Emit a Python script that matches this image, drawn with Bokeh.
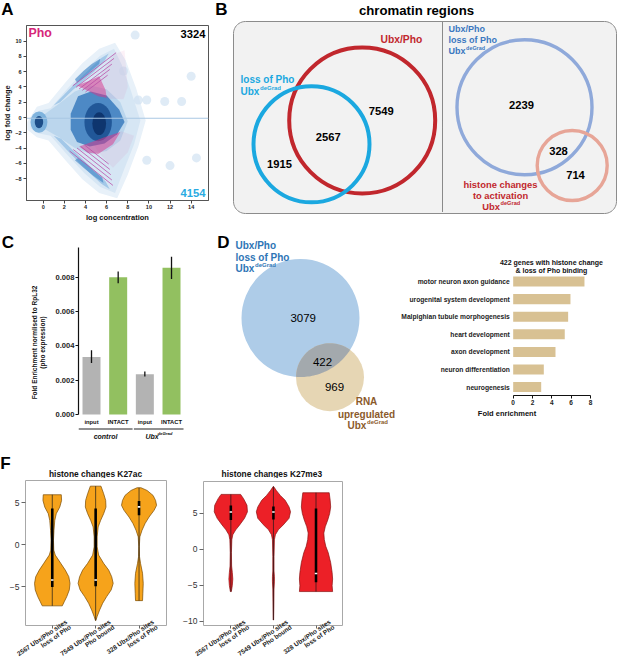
import numpy as np
from bokeh.plotting import figure
from bokeh.layouts import row, column
from bokeh.models import Range1d, FixedTicker, NumeralTickFormatter
from bokeh.core.properties import value
from bokeh.embed import file_html
from bokeh.resources import INLINE

S = 1.0
FONT = "Liberation Sans"


def px(v):
    return int(round(v * S))


def fs(v):
    return f"{v * S:.2f}px"


# ======================= DATA =======================
# ---- Panel A : MA plot (density shapes) ----
A_xticks = [0, 2, 4, 6, 8, 10, 12, 14]
A_yticks = [-8, -6, -4, -2, 0, 2, 4, 6, 8, 10]
A_up_count = "3324"
A_down_count = "4154"
A_halo2_x = [-1.5, -0.6, 0.5, 2.1, 3.7, 5.3, 6.8, 7.8, 8.8, 9.7, 9.0, 8.0, 7.0, 5.3, 3.7, 2.1, 0.5, -0.6, -1.5]
A_halo2_y = [-0.6, 1.4, 1.9, 4.6, 7.1, 9.0, 9.8, 7.5, 3.8, -0.4, -3.8, -7.5, -10.6, -9.9, -8.1, -5.6, -3.0, -2.6, -1.6]
A_halo_x = [-1.2, -0.4, 0.7, 2.3, 3.9, 5.4, 6.7, 7.4, 8.3, 9.2, 8.6, 7.6, 6.8, 5.4, 3.9, 2.3, 0.7, -0.4, -1.2]
A_halo_y = [-0.6, 0.9, 1.2, 3.8, 6.2, 8.1, 9.0, 7.0, 3.5, -0.4, -3.5, -7.0, -9.9, -9.1, -7.3, -4.9, -2.4, -2.1, -1.4]
A_fan_x = [0.0, 1.5, 3.0, 4.5, 6.0, 7.3, 8.0, 7.3, 6.0, 4.5, 3.0, 1.5, 0.0]
A_fan_y = [0.3, 1.8, 3.4, 4.2, 3.7, 2.0, -0.5, -3.0, -4.4, -4.8, -4.0, -2.6, -1.4]
A_uparm_x = [1.0, 2.2, 3.4, 4.5, 5.5, 6.2, 5.8, 4.8, 3.8, 2.8, 1.6]
A_uparm_y = [1.6, 3.3, 5.0, 6.5, 7.8, 8.4, 7.4, 6.0, 4.8, 3.6, 2.0]
A_uparm2_x = [3.0, 3.8, 4.6, 5.4, 5.3, 4.6, 3.8, 3.2]
A_uparm2_y = [5.0, 6.1, 7.0, 7.7, 7.0, 6.2, 5.2, 4.6]
A_loarm_x = [1.0, 2.2, 3.4, 4.5, 5.5, 6.3, 5.9, 4.9, 3.9, 2.9, 1.7]
A_loarm_y = [-2.4, -4.2, -5.9, -7.4, -8.7, -9.4, -8.4, -7.0, -5.7, -4.4, -2.8]
A_loarm2_x = [3.0, 3.9, 4.8, 5.7, 5.6, 4.8, 4.0, 3.3]
A_loarm2_y = [-5.6, -6.7, -7.7, -8.6, -7.9, -7.0, -6.0, -5.3]
A_mass_x = [2.6, 3.3, 4.5, 6.0, 7.2, 7.7, 7.0, 5.8, 4.4, 3.2, 2.6]
A_mass_y = [0.5, 2.8, 3.4, 2.9, 1.0, -0.6, -2.2, -3.4, -3.8, -3.2, -1.6]
A_core_x = [5.2, 5.3]
A_core_y = [-0.6, -0.8]
A_core_w = [2.6, 1.3]
A_core_h = [5.0, 3.0]
A_blob_x = [-0.4, -0.4]
A_blob_y = [-0.6, -0.6]
A_blob_w = [1.6, 0.8]
A_blob_h = [2.8, 1.6]
A_spots_x = [9.0, 9.8, 11.5, 13.1, 14.0, 8.7, 7.6, 9.8, 12.0, 14.5]
A_spots_y = [2.3, 2.3, 2.1, 2.1, 5.4, 10.8, 6.1, -5.6, -6.3, -5.3]
A_pink_up_x = [3.2, 4.2, 5.2, 6.0, 5.9, 5.3, 4.3]
A_pink_up_y = [4.2, 3.5, 2.8, 2.6, 3.6, 5.4, 4.8]
A_pink_upsparse_x = [3.3, 6.0, 7.6, 8.0, 7.7, 6.7, 5.4]
A_pink_upsparse_y = [4.2, 2.5, 2.4, 4.0, 8.8, 8.3, 5.5]
A_pink_lo_x = [3.4, 4.6, 5.8, 7.3, 6.6, 5.2, 4.2]
A_pink_lo_y = [-3.8, -3.2, -2.6, -1.9, -3.5, -4.8, -4.6]
A_pink_losparse_x = [4.6, 7.4, 8.6, 8.0, 6.6, 5.5]
A_pink_losparse_y = [-3.2, -1.8, -2.4, -4.6, -6.6, -5.0]
A_ustripe_x0 = [2.8, 3.1, 3.4, 3.7, 4.0]
A_ustripe_y0 = [4.15, 3.95, 3.75, 3.55, 3.35]
A_ustripe_x1 = [6.9, 6.7, 6.5, 6.3, 6.1]
A_ustripe_y1 = [8.5, 7.75, 7.0, 6.3, 5.55]
A_lstripe_x0 = [2.5, 2.85, 3.2, 3.55, 3.9]
A_lstripe_y0 = [-4.4, -4.2, -4.0, -3.8, -3.6]
A_lstripe_x1 = [6.6, 6.5, 6.4, 6.3, 6.2]
A_lstripe_y1 = [-8.9, -8.2, -7.5, -6.8, -6.1]
A_zero_line = -0.1

# ---- Panel B : chromatin region Venn counts ----
B_left_counts = ["1915", "2567", "7549"]
B_right_counts = ["2239", "328", "714"]

# ---- Panel C : qPCR ----
C_samples = ["input", "INTACT", "input", "INTACT"]
C_groups = ["control", "Ubx"]
C_values = [0.00335, 0.0080, 0.00235, 0.00855]
C_err_low = [0.0030, 0.00765, 0.00222, 0.0079]
C_err_high = [0.00375, 0.00833, 0.0025, 0.0092]
C_yticks = [0.0, 0.002, 0.004, 0.006, 0.008]

# ---- Panel D ----
D_counts = ["3079", "422", "969"]
D_terms = ["motor neuron axon guidance", "urogenital system development",
           "Malpighian tubule morphogenesis", "heart development",
           "axon development", "neuron differentiation", "neurogenesis"]
D_fold = [7.38, 5.93, 5.69, 5.34, 4.38, 3.17, 2.9]
D_xticks = [0, 2, 4, 6, 8]

# ---- Panel F : violins (value, half-width in px) ----
F_labels = ["2567 Ubx/Pho sites\nloss of Pho", "7549 Ubx/Pho sites\nPho bound", "328 Ubx/Pho sites\nloss of Pho"]
ac1_y = [5.94, 5.27, 4.48, 3.70, 2.90, 1.73, 0.55, -0.63, -1.22, -2.2, -3.0, -3.78, -4.57, -5.35, -6.14, -6.74, -7.24]
ac1_w = [9.0, 9.3, 7.5, 4.0, 2.5, 1.7, 1.2, 1.5, 3.0, 8.5, 13.0, 16.5, 17.7, 17.0, 14.5, 12.0, 10.0]
ac2_y = [6.96, 6.06, 5.27, 4.48, 3.70, 2.91, 2.12, 0.94, -0.24, -1.22, -2.2, -3.0, -3.78, -4.57, -5.35, -6.14, -6.93, -7.72, -8.5, -8.98]
ac2_w = [5.3, 8.0, 10.0, 10.3, 8.0, 5.0, 2.5, 1.5, 1.5, 3.0, 8.0, 13.0, 16.0, 17.5, 15.5, 11.0, 7.0, 4.0, 1.5, 0.2]
ac3_y = [6.77, 6.45, 5.86, 5.27, 4.68, 4.09, 3.30, 2.52, 1.73, 0.94, -0.24, -1.42, -2.2, -3.38, -4.57, -5.75, -6.62]
ac3_w = [2.0, 8.0, 14.0, 16.5, 17.5, 15.0, 10.0, 6.0, 3.0, 0.8, 0.3, 0.5, 1.5, 3.5, 4.2, 3.8, 3.5]
ac_q1 = [-5.0, -4.9, 3.5]
ac_q3 = [4.3, 4.3, 5.2]
ac_med = [-4.17, -4.17, 4.5]
me1_y = [7.64, 7.05, 6.13, 5.22, 4.32, 3.40, 2.72, 2.04, 1.35, -0.46, -2.3, -3.2, -4.11, -5.0, -5.85]
me1_w = [10.0, 13.0, 16.5, 17.0, 14.0, 9.0, 5.0, 2.0, 1.0, 0.6, 0.8, 1.5, 2.0, 1.5, 0.5]
me2_y = [8.73, 8.18, 7.5, 6.82, 5.9, 5.22, 4.32, 3.40, 2.72, 2.04, 1.35, -1.0, -3.0, -3.8, -4.5, -5.5, -8.0, -9.8]
me2_w = [0.2, 3.0, 7.0, 12.0, 16.0, 17.5, 16.0, 10.0, 5.0, 2.0, 1.0, 0.6, 0.6, 1.0, 1.0, 0.6, 0.4, 0.2]
me3_y = [7.87, 6.82, 5.9, 5.0, 4.08, 3.17, 2.27, 1.35, 0.44, -0.46, -1.83, -3.2, -4.11, -5.03, -5.85]
me3_w = [13.5, 14.5, 15.0, 14.0, 12.0, 9.5, 8.0, 8.5, 10.0, 12.5, 15.0, 16.5, 17.0, 16.5, 17.0]
me_q1 = [4.1, 4.14, -4.57]
me_q3 = [6.1, 5.95, 5.68]
me_med = [5.2, 5.2, -3.33]


# ======================= HELPERS =======================
def canvas(x0, x1, y0, y1):
    p = figure(width=px(x1) - px(x0), height=px(y1) - px(y0),
               x_range=Range1d(x0, x1), y_range=Range1d(y1, y0),
               x_axis_type=None, y_axis_type=None, title=None,
               toolbar_location=None, output_backend="svg",
               min_border_left=0, min_border_right=0, min_border_top=0, min_border_bottom=0)
    p.outline_line_color = None
    return p


def txt(p, x, y, t, size, color="#111111", style="bold", align="left", baseline="middle"):
    p.text(x=[x], y=[y], text=[t], text_font=value(FONT), text_font_size=fs(size),
           text_font_style=style, text_color=color, text_align=align, text_baseline=baseline)


def ubx(p, x, y, size, color, style="bold"):
    txt(p, x, y, "Ubx", size, color, style)
    txt(p, x + 1.889 * size + 0.6, y - 0.33 * size, "deGrad", 0.6 * size, color, style)


def style_axis(ax, size, bold=True, color="#222222"):
    ax.major_label_text_font = FONT
    ax.major_label_text_font_size = fs(size)
    ax.major_label_text_font_style = "bold" if bold else "normal"
    ax.major_label_text_color = color
    ax.axis_label_text_font = FONT
    ax.axis_label_text_font_style = "bold"
    ax.axis_label_text_color = "#111111"
    ax.minor_tick_line_color = None
    ax.major_tick_in = 0
    ax.major_tick_out = 3


def rounded_rect(x0, y0, x1, y1, r, n=12):
    xs, ys = [], []
    corners = [(x1 - r, y0 + r, -90, 0), (x1 - r, y1 - r, 0, 90),
               (x0 + r, y1 - r, 90, 180), (x0 + r, y0 + r, 180, 270)]
    for cx, cy, a0, a1 in corners:
        t = np.radians(np.linspace(a0, a1, n))
        xs += list(cx + r * np.cos(t))
        ys += list(cy + r * np.sin(t))
    return xs, ys


def lens(c1, r1, c2, r2, n=40):
    dx, dy = c2[0] - c1[0], c2[1] - c1[1]
    d = np.hypot(dx, dy)
    th = np.arctan2(dy, dx)
    a = (r1 ** 2 - r2 ** 2 + d ** 2) / (2 * d)
    al1 = np.arccos(a / r1)
    al2 = np.arccos((d - a) / r2)
    t1 = np.linspace(th - al1, th + al1, n)
    t2 = np.linspace(th + np.pi - al2, th + np.pi + al2, n)
    x1 = c1[0] + r1 * np.cos(t1); y1 = c1[1] + r1 * np.sin(t1)
    x2 = c2[0] + r2 * np.cos(t2); y2 = c2[1] + r2 * np.sin(t2)
    if np.hypot(x2[0] - x1[-1], y2[0] - y1[-1]) > np.hypot(x2[-1] - x1[-1], y2[-1] - y1[-1]):
        x2, y2 = x2[::-1], y2[::-1]
    return list(np.concatenate([x1, x2])), list(np.concatenate([y1, y2]))


def W(p):
    # wrap each plot on its own so that sibling plots do not align their frames
    return column(p)


# ======================= PANEL A =======================
pAs = canvas(0, 210, 0, 24)
txt(pAs, 7, 9, "A", 17, "#000000", align="center")

pA = figure(width=px(210) - px(0), height=px(224) - px(24), title=None,
            x_range=Range1d(-1.58, 15.64), y_range=Range1d(-10.88, 12.06),
            toolbar_location=None, output_backend="svg",
            min_border_left=px(26) - px(0), min_border_right=px(210) - px(208),
            min_border_top=px(25) - px(24), min_border_bottom=px(224) - px(200))
pA.grid.visible = False
pA.outline_line_color = "#555555"
pA.outline_line_width = 1
pA.xaxis.ticker = FixedTicker(ticks=A_xticks)
pA.yaxis.ticker = FixedTicker(ticks=A_yticks)
for ax in (pA.xaxis[0], pA.yaxis[0]):
    style_axis(ax, 5.5)
    ax.axis_line_color = "#555555"
    ax.major_tick_line_color = "#444444"
    ax.axis_label_text_font_size = fs(7.5)
pA.xaxis.axis_label = "log concentration"
pA.yaxis.axis_label = "log fold change"
pA.xaxis.major_label_standoff = 1
pA.xaxis.axis_label_standoff = 1
pA.yaxis.major_label_standoff = 2
pA.yaxis.axis_label_standoff = 0

pA.patch(A_halo2_x, A_halo2_y, fill_color="#e8f1f9", fill_alpha=1.0, line_color=None)
pA.patch(A_halo_x, A_halo_y, fill_color="#d6e6f4", fill_alpha=1.0, line_color=None)
pA.patch(A_fan_x, A_fan_y, fill_color="#a9cbe8", fill_alpha=0.6, line_color=None)
pA.patch(A_uparm_x, A_uparm_y, fill_color="#8dbbe2", fill_alpha=0.7, line_color=None)
pA.patch(A_loarm_x, A_loarm_y, fill_color="#8dbbe2", fill_alpha=0.7, line_color=None)
pA.patch(A_uparm2_x, A_uparm2_y, fill_color="#3f84c4", fill_alpha=0.6, line_color=None)
pA.patch(A_loarm2_x, A_loarm2_y, fill_color="#3f84c4", fill_alpha=0.6, line_color=None)
pA.patch(A_mass_x, A_mass_y, fill_color="#3a7bbd", fill_alpha=0.85, line_color=None)
pA.ellipse(x=A_core_x, y=A_core_y, width=A_core_w, height=A_core_h,
           fill_color=["#1a4f8f", "#0a2f66"], fill_alpha=0.85, line_color=None)
pA.ellipse(x=A_blob_x, y=A_blob_y, width=A_blob_w, height=A_blob_h,
           fill_color=["#6ea9d8", "#0b3c7a"], fill_alpha=0.85, line_color=None)
pA.scatter(x=A_spots_x, y=A_spots_y, size=9, fill_color="#c9ddf0", fill_alpha=0.6, line_color=None)
pA.line(x=[-1.58, 15.64], y=[A_zero_line, A_zero_line], line_color="#a9c7e3", line_width=1)
pA.patch(A_pink_upsparse_x, A_pink_upsparse_y, fill_color="#d9338a", fill_alpha=0.07, line_color=None)
pA.patch(A_pink_losparse_x, A_pink_losparse_y, fill_color="#d9338a", fill_alpha=0.07, line_color=None)
pA.patch(A_pink_up_x, A_pink_up_y, fill_color="#d9338a", fill_alpha=0.5, line_color=None)
pA.patch(A_pink_lo_x, A_pink_lo_y, fill_color="#d9338a", fill_alpha=0.5, line_color=None)
pA.segment(x0=A_ustripe_x0, y0=A_ustripe_y0, x1=A_ustripe_x1, y1=A_ustripe_y1,
           line_color="#b84aa6", line_alpha=0.75, line_width=1)
pA.segment(x0=A_lstripe_x0, y0=A_lstripe_y0, x1=A_lstripe_x1, y1=A_lstripe_y1,
           line_color="#b84aa6", line_alpha=0.75, line_width=1)
txt(pA, -1.39, 11.05, "Pho", 12.4, "#d6267a")
txt(pA, 15.35, 10.96, A_up_count, 11.2, "#000000", align="right")
txt(pA, 15.35, -9.92, A_down_count, 11.2, "#29abe2", align="right")

# ======================= PANEL B =======================
pB = canvas(210, 617, 0, 224)
txt(pB, 221, 9, "B", 17, "#000000", align="center")
txt(pB, 416, 10, "chromatin regions", 13.2, "#000000", align="center")
bx, by = rounded_rect(233, 21, 616, 213, 12)
pB.patch(bx, by, fill_color="#f2f2f2", line_color="#8c8c8c", line_width=1)
pB.segment(x0=[442], y0=[22], x1=[442], y1=[212], line_color="#222222", line_width=1, line_dash="1 1")
pB.circle(x=[361.7], y=[120], radius=[73.0], fill_color=None, line_color="#c1272d", line_width=4 * S)
pB.circle(x=[311], y=[143.8], radius=[58.0], fill_color=None, line_color="#1ba8e0", line_width=4 * S)
pB.circle(x=[524], y=[106.7], radius=[67.5], fill_color=None, line_color="#8fa9da", line_width=3.4 * S)
pB.circle(x=[571.7], y=[165], radius=[35.0], fill_color=None, line_color="#e7a597", line_width=3.4 * S)
txt(pB, 380, 39, "Ubx/Pho", 10.3, "#c1272d")
txt(pB, 240, 79, "loss of Pho", 10, "#1ba8e0")
ubx(pB, 240, 90.8, 10, "#1ba8e0")
for (x, y), t in zip([(279, 163), (327.7, 136), (380.7, 110)], B_left_counts):
    txt(pB, x, y, t, 11.2, "#000000", align="center")
txt(pB, 448, 28.3, "Ubx/Pho", 9, "#3a77c0")
txt(pB, 448, 39.3, "loss of Pho", 9, "#3a77c0")
ubx(pB, 448, 50.2, 9, "#3a77c0")
for (x, y), t in zip([(521, 104), (558, 150.7), (575, 174)], B_right_counts):
    txt(pB, x, y, t, 11.2, "#000000", align="center")
txt(pB, 500, 184, "histone changes", 9.4, "#c1272d", align="center")
txt(pB, 500, 195, "to activation", 9.4, "#c1272d", align="center")
ubx(pB, 481.7, 205.5, 9.4, "#c1272d")

# ======================= PANEL C =======================
pCl = canvas(0, 17, 224, 440)
txt(pCl, 7.5, 241.5, "C", 17, "#000000", align="center")

pC = figure(width=px(213) - px(17), height=px(440) - px(224), title=None,
            x_range=Range1d(0.5125, 5.087), y_range=Range1d(-0.001515, 0.009907),
            x_axis_type=None, toolbar_location=None, output_backend="svg",
            min_border_left=px(78) - px(17), min_border_right=px(213) - px(200),
            min_border_top=px(244) - px(224), min_border_bottom=0)
pC.grid.visible = False
pC.outline_line_color = None
yax = pC.yaxis[0]
style_axis(yax, 7.6)
yax.ticker = FixedTicker(ticks=C_yticks)
yax.formatter = NumeralTickFormatter(format="0.000")
yax.bounds = (0, 0.00973)
yax.axis_line_color = "#111111"
yax.axis_line_width = 1.2
yax.major_tick_line_color = "#111111"
yax.major_label_standoff = 1
yax.axis_label = "Fold Enrichment normlised to RpL32\n(pho expression)"
yax.axis_label_text_font_size = fs(6.5)
yax.axis_label_standoff = 6
C_x = [1, 2, 3, 4]
pC.vbar(x=C_x, top=C_values, width=0.675, bottom=0,
        fill_color=["#b3b3b3", "#92c060", "#b3b3b3", "#92c060"], line_color=None)
pC.segment(x0=C_x, y0=C_err_low, x1=C_x, y1=C_err_high, line_color="#111111", line_width=1.3)
pC.text(x=C_x, y=[-0.000437] * 4, text=C_samples, text_font=value(FONT), text_font_size=fs(5.8),
        text_font_style="bold", text_color="#111111", text_align="center", text_baseline="middle")
pC.segment(x0=[0.5125, 2.59], y0=[-0.000845] * 2, x1=[2.54, 4.45], y1=[-0.000845] * 2,
           line_color="#6d6d6d", line_width=1.6)
txt(pC, 1.525, -0.001253, C_groups[0], 7.0, "#111111", style="bold italic", align="center")
txt(pC, 3.025, -0.001253, C_groups[1], 7.0, "#111111", style="bold italic")
txt(pC, 3.47, -0.001253 + 0.00013, "deGrad", 4.3, "#111111", style="bold italic")

# ======================= PANEL D venn =======================
pDv = canvas(213, 396, 224, 440)
txt(pDv, 223, 242, "D", 17, "#000000", align="center")
c1, r1 = (300.0, 317.5), 59.0
c2, r2 = (329.5, 376.7), 34.0
pDv.circle(x=[c1[0]], y=[c1[1]], radius=[r1], fill_color="#aecce8", line_color=None)
pDv.circle(x=[c2[0]], y=[c2[1]], radius=[r2], fill_color="#e6d6b4", line_color=None)
lx, ly = lens(c1, r1, c2, r2)
pDv.patch(lx, ly, fill_color="#a3a9ad", line_color=None)
txt(pDv, 235, 244.5, "Ubx/Pho", 10, "#2e75b6")
txt(pDv, 235, 256.5, "loss of Pho", 10, "#2e75b6")
ubx(pDv, 235, 268.2, 10, "#2e75b6")
for (x, y), t in zip([(302.7, 317), (322, 361.7), (334, 386.7)], D_counts):
    txt(pDv, x, y, t, 11.5, "#000000", style="normal", align="center")
txt(pDv, 366, 401, "RNA", 10, "#8b5a2b", align="center")
txt(pDv, 366, 413.7, "upregulated", 10, "#8b5a2b", align="center")
ubx(pDv, 347, 424.8, 10, "#8b5a2b")

# ======================= PANEL D bars =======================
pDb = figure(width=px(617) - px(396), height=px(440) - px(224), title=None,
             x_range=Range1d(-12.08, 10.8), y_range=Range1d(6.477, -3.24),
             y_axis_type=None, toolbar_location=None, output_backend="svg",
             min_border_left=0, min_border_right=0, min_border_top=0,
             min_border_bottom=px(440) - px(395))
pDb.grid.visible = False
pDb.outline_line_color = None
xax = pDb.xaxis[0]
style_axis(xax, 6.5)
xax.ticker = FixedTicker(ticks=D_xticks)
xax.bounds = (0, 8)
xax.axis_line_color = "#111111"
xax.major_tick_line_color = "#111111"
xax.major_label_standoff = 1
xax.axis_label = "Fold enrichment"
xax.axis_label_text_font_size = fs(7.5)
xax.axis_label_standoff = 1
D_y = list(range(len(D_terms)))
pDb.hbar(y=D_y, left=0, right=D_fold, height=0.57, fill_color="#d8c193", line_color=None)
pDb.text(x=[-0.35] * len(D_terms), y=D_y, text=D_terms, text_font=value(FONT), text_font_size=fs(6.7),
         text_font_style="bold", text_color="#222222", text_align="right", text_baseline="middle")
txt(pDb, 3.96, -1.1, "422 genes with histone change", 7, "#111111", align="center")
txt(pDb, 3.96, -0.62, "& loss of Pho binding", 7, "#111111", align="center")

# ======================= PANEL F =======================
pFs = canvas(0, 350, 440, 478)
txt(pFs, 5, 463, "F", 17, "#000000", align="center")
txt(pFs, 95, 473.5, "histone changes K27ac", 8.4, "#111111", align="center")
txt(pFs, 271.3, 473.5, "histone changes K27me3", 8.4, "#111111", align="center")

F_label_shift = 0.37  # rotated labels sit to the right of their tick


def violin_fig(x0, x1, fx0, fx1, fy0, fy1, xr, yr, yticks):
    p = figure(width=px(x1) - px(x0), height=px(671) - px(478), title=None,
               x_range=Range1d(*xr), y_range=Range1d(*yr),
               toolbar_location=None, output_backend="svg",
               min_border_left=px(fx0) - px(x0), min_border_right=px(x1) - px(fx1),
               min_border_top=px(fy0) - px(478), min_border_bottom=px(671) - px(fy1))
    p.grid.visible = False
    p.outline_line_color = "#a8a8a8"
    p.outline_line_width = 1
    ya = p.yaxis[0]
    style_axis(ya, 8.5, bold=False, color="#333333")
    ya.ticker = FixedTicker(ticks=yticks)
    ya.axis_line_color = None
    ya.major_tick_line_color = "#666666"
    ya.major_tick_out = 4
    ya.major_label_standoff = 2
    xa = p.xaxis[0]
    style_axis(xa, 6.5)
    shifted = [1 + F_label_shift, 2 + F_label_shift, 3 + F_label_shift]
    # labels on shifted major ticks; the visible tick marks are minor ticks at 1, 2, 3
    xa.ticker = FixedTicker(ticks=shifted, minor_ticks=[1, 2, 3])
    xa.major_label_overrides = {shifted[0]: F_labels[0], shifted[1]: F_labels[1], shifted[2]: F_labels[2]}
    xa.major_label_orientation = 0.6
    xa.major_label_text_line_height = 0.95
    xa.axis_line_color = None
    xa.major_tick_line_color = None
    xa.major_tick_out = 0
    xa.minor_tick_line_color = "#666666"
    xa.minor_tick_out = 3
    xa.minor_tick_in = 0
    xa.major_label_standoff = -5
    return p


def draw_violins(p, shapes, q1, q3, med, unit, fill, line, ypx):
    for i, (ys, ws) in enumerate(shapes):
        c = i + 1
        hw = np.array(ws) / unit
        xs = np.concatenate([c + hw, (c - hw)[::-1]])
        yy = np.concatenate([np.array(ys), np.array(ys)[::-1]])
        p.patch(list(xs), list(yy), fill_color=fill, line_color=line, line_width=0.7)
        p.segment(x0=[c], y0=[min(ys)], x1=[c], y1=[max(ys)], line_color="#1a1a1a", line_width=0.7)
    cs = [1, 2, 3]
    p.vbar(x=cs, bottom=q1, top=q3, width=2.6 / unit, fill_color="#000000", line_color=None)
    p.rect(x=cs, y=med, width=2.6 / unit, height=1.6 / ypx, fill_color="#ffffff", line_color=None)


pF1 = violin_fig(0, 180, 25, 165.7, 480, 625.7, (0.383, 3.633), (-9.57, 7.63), [-5, 0, 5])
draw_violins(pF1, [(ac1_y, ac1_w), (ac2_y, ac2_w), (ac3_y, ac3_w)], ac_q1, ac_q3, ac_med,
             43.3, "#f6a31b", "#7a4a00", 8.47)
pF2 = violin_fig(180, 350, 200, 342.3, 481, 627.3, (0.358, 3.622), (-10.56, 9.43), [-10, -5, 0, 5])
draw_violins(pF2, [(me1_y, me1_w), (me2_y, me2_w), (me3_y, me3_w)], me_q1, me_q3, me_med,
             43.6, "#ec2027", "#8a1010", 7.32)

# ======================= LAYOUT =======================
layout = column(
    row(column(W(pAs), W(pA)), W(pB)),
    row(W(pCl), W(pC), W(pDv), W(pDb)),
    column(W(pFs), row(W(pF1), W(pF2))),
)

open("out.html", "w").write(file_html(layout, INLINE))
